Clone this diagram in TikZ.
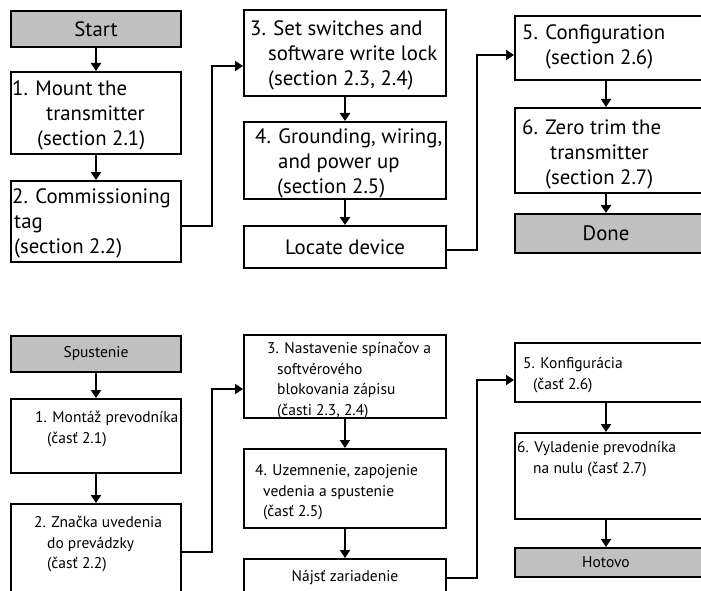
\documentclass[tikz,border=0pt]{standalone}
\usepackage{fontspec}
\setmainfont{PT Sans}
\usetikzlibrary{arrows.meta}
\definecolor{boxgray}{RGB}{192,192,192}
\tikzset{
  box/.style={draw, line width=2pt, inner sep=0pt},
  endbox/.style={box, fill=boxgray},
  flow/.style={line width=2pt, -{Triangle[length=8pt,width=10pt]}},
  big/.style={font=\fontsize{20.8}{25}\selectfont},
  small/.style={font=\fontsize{15.5}{20.5}\selectfont},
  bigtxt/.style={big, anchor=north west, inner sep=0pt, align=left, yshift=10.5pt},
  smalltxt/.style={small, anchor=north west, inner sep=0pt, align=left, yshift=8.8pt},
  colA/.style={minimum width=170pt},
  colB/.style={minimum width=202pt},
  colC/.style={minimum width=190pt},
}
\begin{document}
\begin{tikzpicture}[x=1pt,y=-1pt]
  \useasboundingbox (0,0) rectangle (701,591);
  % English flow
  \begin{scope}
    \node[endbox, big, colA, minimum height=36pt] (start) at (96,29) {Start};
    \node[box, colA, minimum height=82pt] (mount) at (96,113) {};
    \node[box, colA, minimum height=81pt] (comm) at (96,221.5) {};
    \node[box, colB, minimum height=86pt] (sw) at (345,53) {};
    \node[box, colB, minimum height=77pt] (gnd) at (345,160.5) {};
    \node[box, big, colB, minimum height=42pt] (locate) at (345,247) {Locate device};
    \node[box, colC, minimum height=64pt] (conf) at (610,48) {};
    \node[box, colC, minimum height=85pt] (zero) at (610,150.5) {};
    \node[endbox, big, colC, minimum height=39pt] (done) at (610,233.5) {\hspace*{-8pt}Done};

    \node[bigtxt] (mounttxt) at (12,88) {\strut 1. Mount the\\\hspace*{34pt}transmitter\\\hspace*{25pt}(section 2.1)};
    \node[bigtxt] (commtxt) at (12,196) {\strut 2. Commissioning\\\hspace*{2pt}tag\\\hspace*{2pt}(section 2.2)};
    \node[bigtxt] (swtxt) at (250,28) {\strut 3. Set switches and\\\hspace*{18pt}software write lock\\\hspace*{18pt}(section 2.3, 2.4)};
    \node[bigtxt] (gndtxt) at (255,136) {\strut 4. Grounding, wiring,\\\hspace*{23pt}and power up\\\hspace*{22pt}(section 2.5)};
    \node[bigtxt] (conftxt) at (522,32) {\strut 5. Configuration\\\hspace*{23pt}(section 2.6)};
    \node[bigtxt] (zerotxt) at (522,127) {\strut 6. Zero trim the\\\hspace*{28pt}transmitter\\\hspace*{23pt}(section 2.7)};

    \draw[flow] (start) -- (mount);
    \draw[flow] (mount) -- (comm);
    \draw[flow] ([yshift=-4.5pt]comm.east) -- ++(30,0) |- ([yshift=-13pt]sw.west);
    \draw[flow] (sw) -- (gnd);
    \draw[flow] (gnd) -- (locate);
    \draw[flow] ([yshift=-3pt]locate.east) -- ++(30,0) |- ([yshift=-7pt]conf.west);
    \draw[flow] ([xshift=-4pt]conf.south) -- ([xshift=-4pt]zero.north);
    \draw[flow] ([xshift=-4pt]zero.south) -- ([xshift=-4pt]done.north);
  \end{scope}
  % Slovak flow
  \begin{scope}
    \node[endbox, small, colA, minimum height=36pt] (spust) at (96,354) {Spustenie};
    \node[box, colA, minimum height=74pt] (mont) at (96,436) {};
    \node[box, colA, minimum height=95pt] (znac) at (96,551.5) {};
    \node[box, colB, minimum height=83pt] (nast) at (345,376.5) {};
    \node[box, colB, minimum height=79pt] (uzem) at (345,488.5) {};
    \node[box, small, colB, minimum height=38pt] (najst) at (345,578) {Nájsť zariadenie};
    \node[box, colC, minimum height=59pt] (konf) at (610,372.5) {};
    \node[box, colC, minimum height=86pt] (vyl) at (610,476) {};
    \node[endbox, small, colC, minimum height=29pt] (hot) at (610,562.5) {\hspace*{-8pt}Hotovo};

    \node[smalltxt] (monttxt) at (35,417) {\strut 1. Montáž prevodníka\\\hspace*{12pt}(časť 2.1)};
    \node[smalltxt] (znactxt) at (34,522) {\strut 2. Značka uvedenia\\\hspace*{13pt}do prevádzky\\\hspace*{13pt}(časť 2.2)};
    \node[smalltxt] (nasttxt) at (267,348) {\strut 3. Nastavenie spínačov a\\\hspace*{10pt}softvérového\\\hspace*{10pt}blokovania zápisu\\\hspace*{10pt}(časti 2.3, 2.4)};
    \node[smalltxt] (uzemtxt) at (255,470) {\strut 4. Uzemnenie, zapojenie\\\hspace*{8pt}vedenia a spustenie\\\hspace*{8pt}(časť 2.5)};
    \node[smalltxt] (konftxt) at (523,363) {\strut 5. Konfigurácia\\\hspace*{10pt}(časť 2.6)};
    \node[smalltxt] (vyltxt) at (517,447) {\strut 6. Vyladenie prevodníka\\\hspace*{16pt}na nulu (časť 2.7)};

    \draw[flow] (spust) -- (mont);
    \draw[flow] (mont) -- (znac);
    \draw[flow] (znac.east) -- ++(30,0) |- ([yshift=-12.5pt]nast.west);
    \draw[flow] (nast) -- (uzem);
    \draw[flow] (uzem) -- (najst);
    \draw[flow] (najst.east) -- ++(30,0) |- ([yshift=-7.5pt]konf.west);
    \draw[flow] ([xshift=-4pt]konf.south) -- ([xshift=-4pt]vyl.north);
    \draw[flow] ([xshift=-4pt]vyl.south) -- ([xshift=-4pt]hot.north);
  \end{scope}
\end{tikzpicture}
\end{document}
